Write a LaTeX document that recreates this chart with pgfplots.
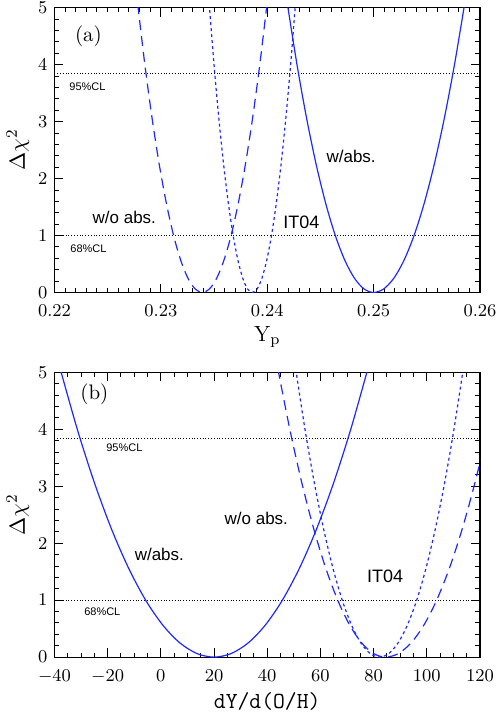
\documentclass[border=0pt]{standalone}
\usepackage{pgfplots}
\pgfplotsset{compat=1.18}
\usepackage{fontspec}
\newfontfamily\helv{Liberation Sans}

\definecolor{curve}{RGB}{30,40,255}

\pgfplotsset{
  chi2/.style={
    scale only axis,
    width=213pt, height=142.5pt,
    anchor=north west,
    ymin=0, ymax=5,
    ytick={0,1,2,3,4,5},
    minor y tick num=4,
    tick align=inside,
    xtick pos=both, ytick pos=both,
    xticklabel pos=lower, yticklabel pos=left,
    major tick length=4.5pt, minor tick length=2.3pt,
    axis line style={line width=0.6pt},
    every tick/.style={black, line width=0.5pt},
    tick label style={font=\fontsize{9.5}{11}\selectfont, inner sep=1pt},
    xticklabel style={yshift=-5pt},
    yticklabel style={xshift=-2.3pt},
    label style={font=\fontsize{11}{13}\selectfont},
    xlabel style={inner sep=1.5pt},
    ylabel={$\Delta\chi^2$},
    ylabel style={yshift=0pt},
    clip=true,
  },
  cl/.style={black, densely dotted, line width=0.4pt},
  wabs/.style={curve, solid, line width=0.6pt, smooth},
  woabs/.style={curve, dash pattern=on 5pt off 3pt, line width=0.6pt, smooth},
  it04/.style={curve, dash pattern=on 1.5pt off 1.5pt, line width=0.6pt, smooth},
}
\tikzset{
  note/.style={font=\helv\fontsize{8.5}{10}\selectfont, inner sep=0pt},
  bignote/.style={font=\helv\fontsize{9}{10}\selectfont, inner sep=0pt},
  clnote/.style={font=\helv\fontsize{5.5}{6.5}\selectfont, inner sep=0pt},
}

\begin{document}
\begin{tikzpicture}
% ---------------- panel (a) ----------------
\begin{axis}[chi2,
  at={(0pt,0pt)},
  xmin=0.22, xmax=0.26,
  xtick={0.22,0.23,0.24,0.25,0.26},
  minor x tick num=9,
  scaled x ticks=false,
  xticklabel style={/pgf/number format/.cd, fixed, fixed zerofill, precision=2},
  xlabel={$\mathrm{Y_p}$},
  xlabel style={yshift=-2.3pt},
]
\addplot[cl] coordinates {(0.22,3.84) (0.26,3.84)};
\addplot[cl] coordinates {(0.22,1) (0.26,1)};

% w/abs.
\addplot[wabs] coordinates {
  (0.2419,5.0625) (0.2428,4) (0.2437,3.0625) (0.2446,2.25) (0.2455,1.5625)
  (0.2464,1) (0.2473,0.5625) (0.2482,0.25) (0.2491,0.0625) (0.2500,0)
  (0.25095,0.0625) (0.2519,0.25) (0.25285,0.5625) (0.2538,1) (0.25475,1.5625)
  (0.2557,2.25) (0.25665,3.0625) (0.2576,4) (0.25855,5.0625)
};
% w/o abs.
\addplot[woabs] coordinates {
  (0.227825,5.0625) (0.2285,4) (0.229175,3.0625) (0.22985,2.25) (0.230525,1.5625)
  (0.2312,1) (0.231875,0.5625) (0.23255,0.25) (0.233225,0.0625) (0.2339,0)
  (0.234575,0.0625) (0.23525,0.25) (0.235925,0.5625) (0.2366,1) (0.237275,1.5625)
  (0.23795,2.25) (0.238625,3.0625) (0.2393,4) (0.239975,5.0625)
};
% IT04
\addplot[it04] coordinates {
  (0.23455,5.0625) (0.2350,4) (0.23545,3.0625) (0.2359,2.25) (0.23635,1.5625)
  (0.2368,1) (0.23725,0.5625) (0.2377,0.25) (0.23815,0.0625) (0.2386,0)
  (0.23905,0.0625) (0.2395,0.25) (0.23995,0.5625) (0.2404,1) (0.24085,1.5625)
  (0.2413,2.25) (0.24175,3.0625) (0.2422,4) (0.24265,5.0625)
};

\node[font=\fontsize{10.5}{12}\selectfont] at (axis cs:0.2232,4.5) {(a)};
\node[clnote] at (axis cs:0.2231,3.61) {95\%CL};
\node[clnote] at (axis cs:0.2232,0.77) {68\%CL};
\node[note] at (axis cs:0.22657,1.32) {w/o abs.};
\node[bignote] at (axis cs:0.2432,1.23) {IT04};
\node[note] at (axis cs:0.24789,2.39) {w/abs.};
\end{axis}

% ---------------- panel (b) ----------------
\begin{axis}[chi2,
  at={(0pt,-182.5pt)},
  xmin=-40, xmax=120,
  xtick={-40,-20,0,20,40,60,80,100,120},
  minor x tick num=3,
  xlabel={\texttt{dY/d(O/H)}},
  xlabel style={font=\fontsize{11.5}{13}\selectfont, yshift=-2pt},
]
\addplot[cl] coordinates {(-40,3.84) (120,3.84)};
\addplot[cl] coordinates {(-40,1) (120,1)};

% w/abs.
\addplot[wabs] coordinates {
  (-37.825,5.0625) (-31.4,4) (-24.975,3.0625) (-18.55,2.25) (-12.125,1.5625)
  (-5.7,1) (0.725,0.5625) (7.15,0.25) (13.575,0.0625) (20,0)
  (26.425,0.0625) (32.85,0.25) (39.275,0.5625) (45.7,1) (52.125,1.5625)
  (58.55,2.25) (64.975,3.0625) (71.4,4) (77.825,5.0625)
};
% w/o abs.
\addplot[woabs] coordinates {
  (44,5.0625) (48.5,4) (53,3.0625) (57.5,2.25) (62,1.5625)
  (66.5,1) (71,0.5625) (75.5,0.25) (80,0.0625) (84.5,0)
  (89.3,0.0625) (94.1,0.25) (98.9,0.5625) (103.7,1) (108.5,1.5625)
  (113.3,2.25) (118.1,3.0625) (122.9,4) (127.7,5.0625)
};
% IT04
\addplot[it04] coordinates {
  (50.7,5.0625) (54.2,4) (57.7,3.0625) (61.2,2.25) (64.7,1.5625)
  (68.2,1) (71.7,0.5625) (75.2,0.25) (78.7,0.0625) (82.2,0)
  (85.7,0.0625) (89.2,0.25) (92.7,0.5625) (96.2,1) (99.7,1.5625)
  (103.2,2.25) (106.7,3.0625) (110.2,4) (113.7,5.0625)
};

\node[font=\fontsize{10.5}{12}\selectfont] at (axis cs:-25,4.61) {(b)};
\node[clnote] at (axis cs:-13.7,3.67) {95\%CL};
\node[clnote] at (axis cs:-22,0.79) {68\%CL};
\node[note] at (axis cs:35.9,2.44) {w/o abs.};
\node[note] at (axis cs:-0.56,1.81) {w/abs.};
\node[bignote] at (axis cs:84.3,1.42) {IT04};
\end{axis}
\end{tikzpicture}
\end{document}
